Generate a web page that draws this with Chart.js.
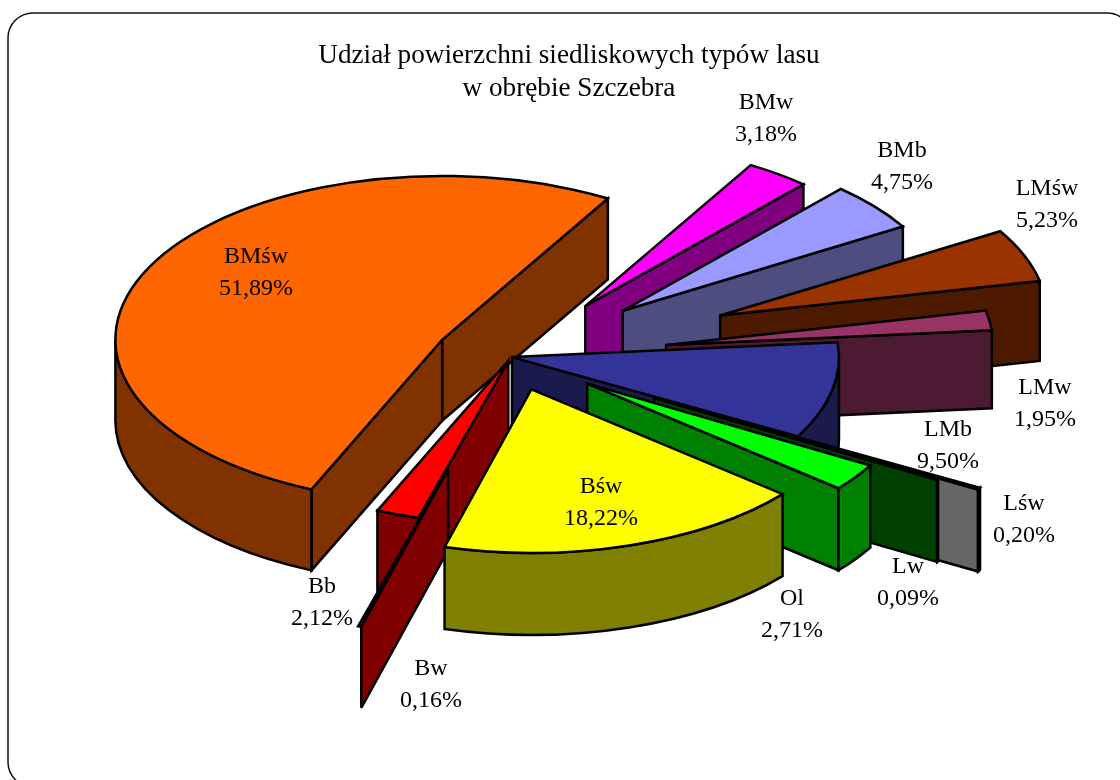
<!DOCTYPE html>
<html>
<head>
<meta charset="utf-8">
<script src="https://cdn.jsdelivr.net/npm/chart.js@4"></script>
<style>html,body{margin:0;padding:0;background:#fff}canvas{display:block}</style>
</head>
<body>
<canvas id="c" width="1120" height="780"></canvas>
<script>
const titleLines = ['Udział powierzchni siedliskowych typów lasu', 'w obrębie Szczebra'];
const categories = ['BMw','BMb','LMśw','LMw','LMb','Lśw','Lw','Ol','Bśw','Bw','Bb','BMśw'];
const shares = [3.18,4.75,5.23,1.95,9.50,0.20,0.09,2.71,18.22,0.16,2.12,51.89];
const topColours = ['#ff00ff','#9999ff','#993300','#993366','#333399','#cccccc','#004000','#00ff00','#ffff00','#800000','#ff0000','#ff6600'];
const wallColours = ['#800080','#4d4d80','#4d1a00','#4d1a33','#1a1a4d','#666666','#004000','#008000','#808000','#800000','#800000','#803300'];
const explode = [126,145,225,157,1,210,165,93,68,233,8,77];
const wallDepth = [80,80,80,78,82,82,82,82,82,81,81,81];
const paintOrder = ['BMw','BMb','BMśw','LMśw','LMw','LMb','Lśw','Lw','Ol','Bb','Bw','Bśw'];
const noOuterWall = ['Bw'];
const labelAnchors = [[766,109],[902,157],[1047,195],[1045,394],[948,436],[1024,510],[908,573],[792,605],[601,493],[431,675],[322,593],[256,263]];

const SQUASH = 0.5, RADIUS = 327, STROKE = 2.5, LINE_GAP = 32;
const FONT = '"Liberation Serif","Times New Roman",serif';

const pie3d = {
  id: 'pie3d',
  beforeDraw(chart) {
    const ctx = chart.ctx;
    ctx.save();
    ctx.beginPath();
    ctx.roundRect(8, 13, 1124, 774, 25);
    ctx.lineWidth = 1.5;
    ctx.strokeStyle = '#111';
    ctx.stroke();
    ctx.restore();
  },
  beforeDatasetDraw() { return false; },
  afterDatasetsDraw(chart) {
    const ctx = chart.ctx;
    const arcs = chart.getDatasetMeta(0).data;
    const cx = arcs[0].x, cy = arcs[0].y;
    const flat = (dy, fn) => {
      ctx.save();
      ctx.translate(cx, cy + dy);
      ctx.scale(1, SQUASH);
      ctx.translate(-cx, -cy);
      fn();
      ctx.restore();
    };
    const pen = () => {
      ctx.lineWidth = STROKE;
      ctx.lineJoin = 'miter';
      ctx.miterLimit = 4;
      ctx.strokeStyle = '#000';
      ctx.stroke();
    };
    const outline = (fill) => {
      ctx.fillStyle = fill;
      ctx.fill();
      pen();
    };
    paintOrder.forEach((name) => {
      const i = categories.indexOf(name);
      const arc = arcs[i];
      const s = arc.startAngle, e = arc.endAngle, R = arc.outerRadius;
      const mid = (s + e) / 2;
      const ox = Math.cos(mid) * explode[i], oy = Math.sin(mid) * explode[i];
      const ax = cx + ox, ay = cy + oy;
      const d = wallDepth[i];
      // radial walls facing the viewer
      const radial = (a) => {
        ctx.beginPath();
        flat(0, () => { ctx.moveTo(ax, ay); ctx.lineTo(ax + Math.cos(a) * R, ay + Math.sin(a) * R); });
        flat(d, () => { ctx.lineTo(ax + Math.cos(a) * R, ay + Math.sin(a) * R); ctx.lineTo(ax, ay); });
        ctx.closePath();
        outline(wallColours[i]);
      };
      if (Math.sin(s - Math.PI / 2) > 0) radial(s);
      if (Math.sin(e + Math.PI / 2) > 0) radial(e);
      // curved outer wall
      const a0 = Math.max(s, 0), a1 = Math.min(e, Math.PI);
      if (a1 > a0 && !noOuterWall.includes(name)) {
        ctx.beginPath();
        flat(0, () => ctx.arc(ax, ay, R, a0, a1));
        flat(d, () => ctx.arc(ax, ay, R, a1, a0, true));
        ctx.closePath();
        outline(wallColours[i]);
      }
      // top face, drawn by the library's arc element
      flat(0, () => {
        ctx.save();
        ctx.translate(ox, oy);
        arc.draw(ctx);
        ctx.restore();
      });
      ctx.beginPath();
      flat(0, () => {
        ctx.moveTo(ax, ay);
        ctx.arc(ax, ay, R, s, e);
        ctx.closePath();
      });
      pen();
    });
  },
  afterDraw(chart) {
    const ctx = chart.ctx;
    ctx.save();
    ctx.fillStyle = '#000';
    ctx.textAlign = 'center';
    ctx.textBaseline = 'alphabetic';
    ctx.font = '27.2px ' + FONT;
    ctx.fillText(titleLines[0], 569, 63);
    ctx.fillText(titleLines[1], 569, 96);
    ctx.font = '24px ' + FONT;
    categories.forEach((name, i) => {
      const [x, y] = labelAnchors[i];
      ctx.fillText(name, x, y);
      ctx.fillText(shares[i].toFixed(2).replace('.', ',') + '%', x, y + LINE_GAP);
    });
    ctx.restore();
  }
};

new Chart(document.getElementById('c'), {
  type: 'pie',
  data: {
    labels: categories,
    datasets: [{
      data: shares,
      backgroundColor: topColours,
      borderWidth: 0,
      offset: 0
    }]
  },
  options: {
    responsive: false,
    animation: false,
    rotation: 30.4,
    radius: RADIUS,
    layout: { padding: { left: 0, top: 0, right: 98, bottom: 66 } },
    plugins: { legend: { display: false }, tooltip: { enabled: false }, title: { display: false } }
  },
  plugins: [pie3d]
});
</script>
</body>
</html>
